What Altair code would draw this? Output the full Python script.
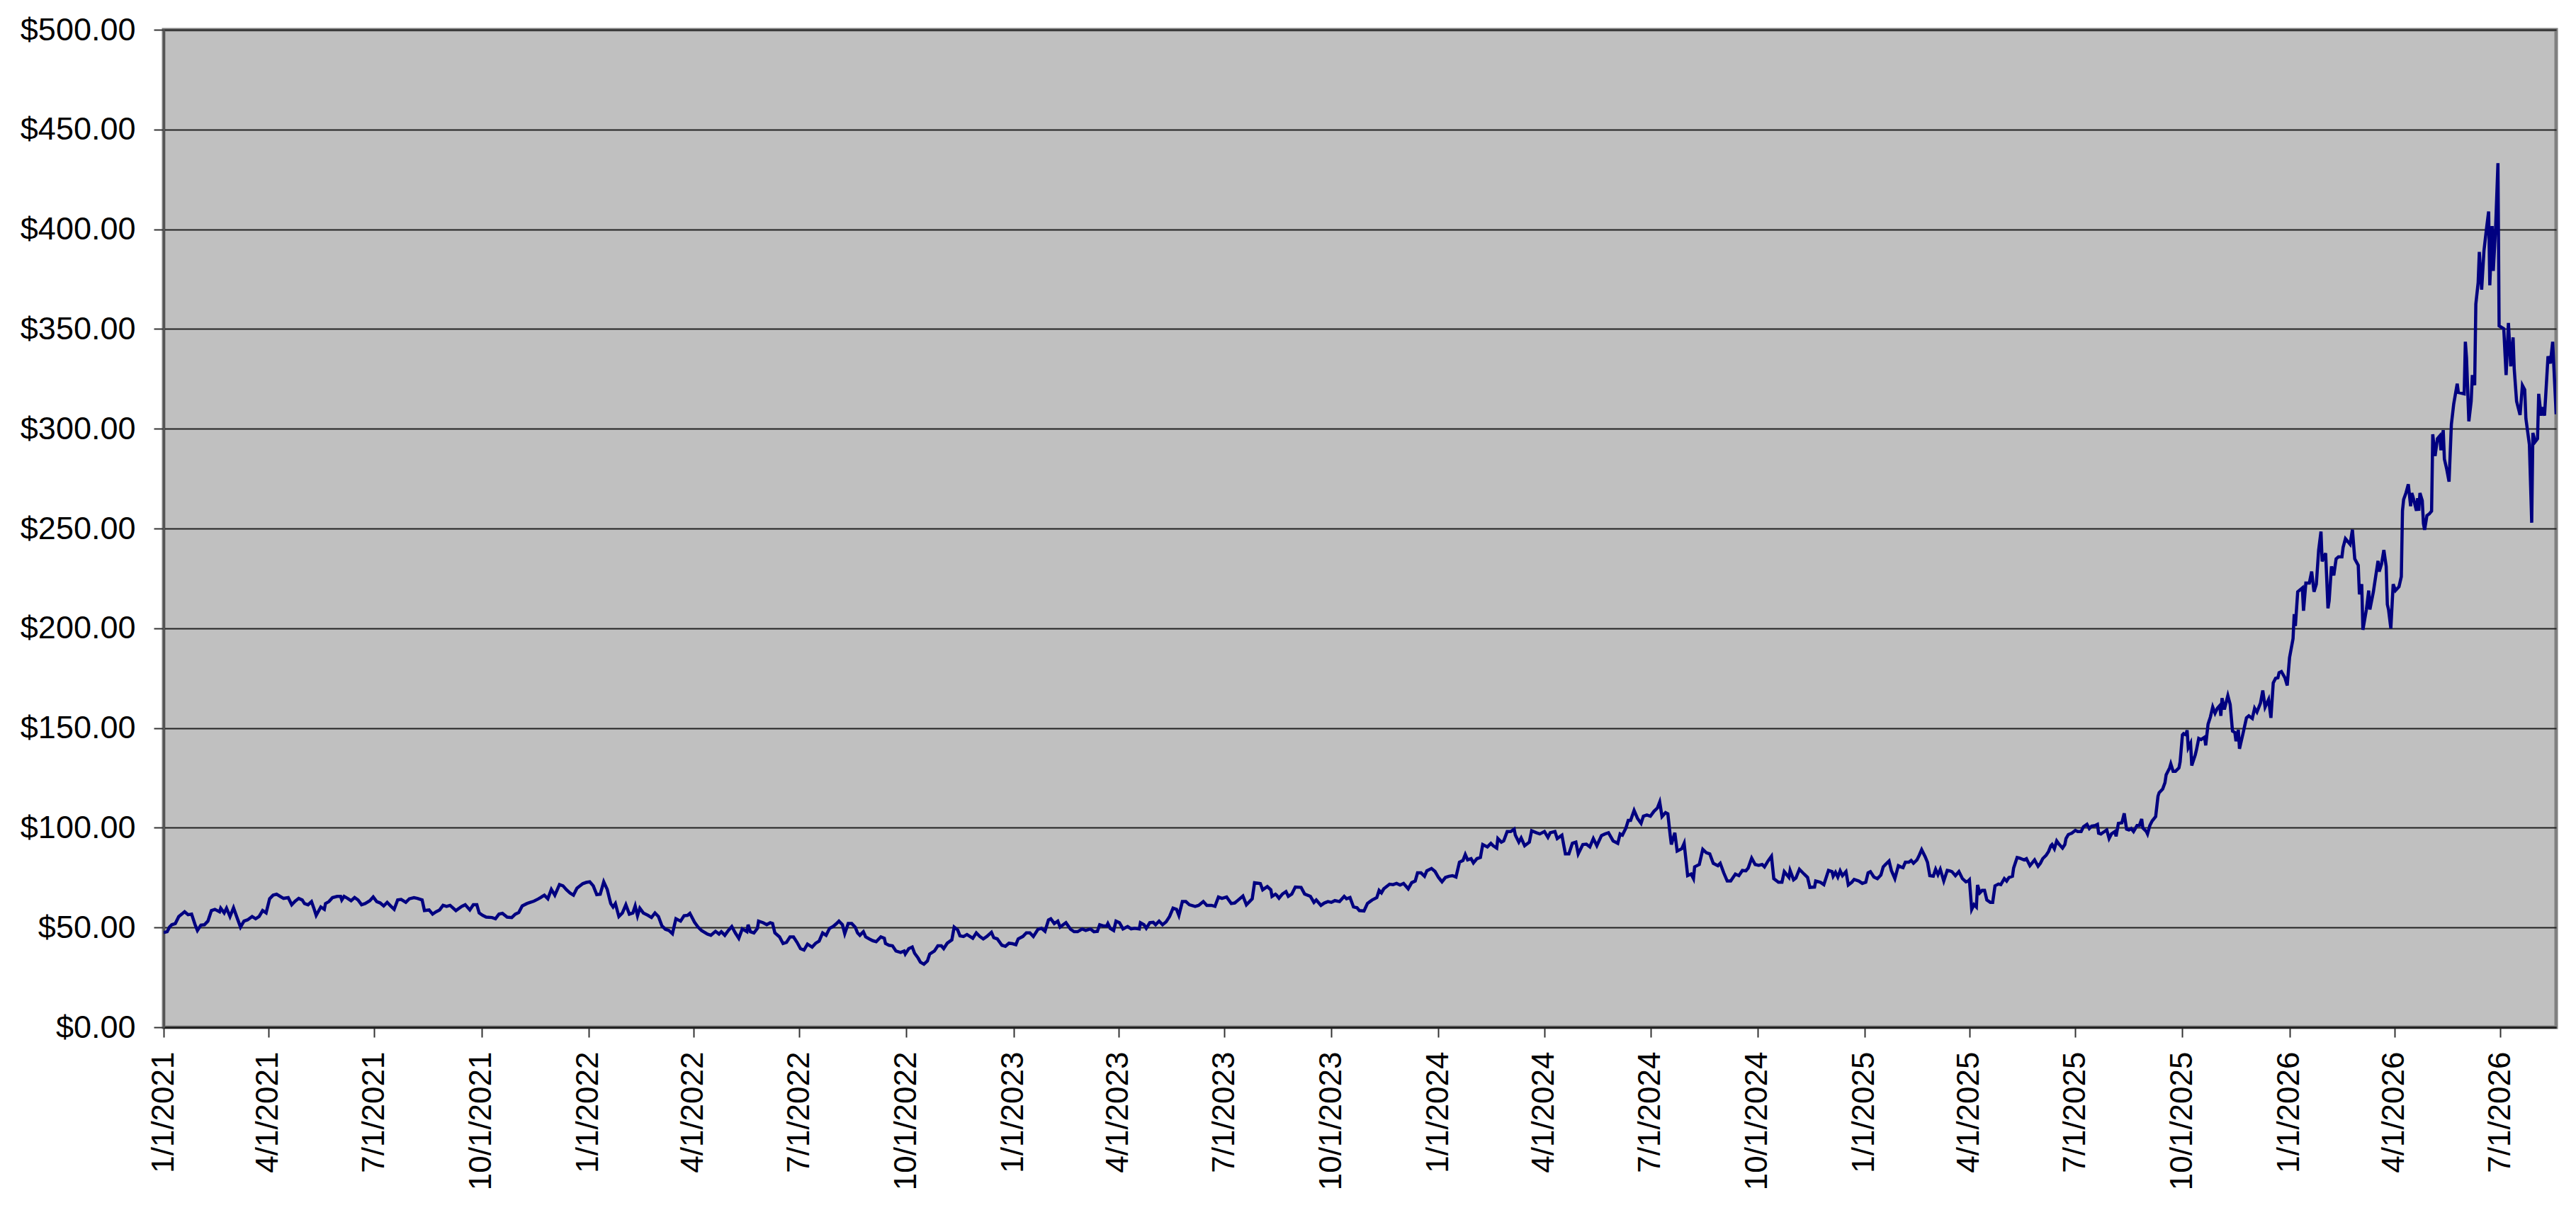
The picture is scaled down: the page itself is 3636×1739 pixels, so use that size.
import altair as alt
import pandas as pd

# ---- data ----
start_date = "2021-01-01"
# days since start_date
trading_day = [
0,3,5,7,10,13,18,21,24,27,29,32,35,38,41,44,48,49,52,54,57,60,63,66,69,72,76,79,82,85,88,91,94,97,100,103,107,110,113,116,119,121,124,127,129,131,135,138,139,142,145,149,152,153,155,158,161,164,167,170,173,177,180,183,186,189,192,195,198,201,204,208,211,215,218,222,224,228,231,234,237,240,243,246,251,256,259,263,266,269,271,274,277,282,285,288,291,295,299,302,305,308,312,315,318,322,327,330,333,336,340,343,346,349,352,355,360,363,366,369,372,375,378,381,384,386,388,391,394,397,400,403,405,407,409,412,416,419,422,425,428,431,434,437,440,444,447,450,452,456,459,462,467,470,474,477,479,
482,485,488,491,494,497,501,502,504,507,510,511,515,518,521,523,525,529,532,535,538,541,544,547,550,553,557,560,563,566,569,572,575,578,580,583,585,588,591,594,596,598,601,603,606,609,612,616,619,620,623,626,629,633,636,637,640,643,645,648,650,653,656,658,662,665,668,670,673,677,679,682,684,687,690,695,698,701,704,707,711,713,716,720,723,726,729,732,734,738,741,744,747,751,754,757,760,762,765,768,770,774,775,779,782,785,789,792,796,799,802,804,807,810,811,813,816,818,821,824,828,831,834,838,839,842,844,847,850,852,855,858,861,864,867,870,872,875,878,881,886,889,893,896,900,903,906,909,913,917,920,923,927,930,934,935,937,942,944,948,951,952,955,
956,958,961,964,966,969,972,977,980,985,988,990,994,997,1000,1003,1006,1010,1014,1016,1019,1022,1025,1027,1031,1034,1038,1042,1044,1046,1048,1053,1056,1059,1062,1065,1069,1072,1075,1077,1080,1083,1085,1089,1092,1095,1098,1101,1104,1107,1110,1113,1116,1118,1120,1123,1125,1128,1131,1133,1137,1140,1142,1145,1146,1149,1151,1154,1157,1160,1161,1164,1166,1169,1173,1175,1179,1182,1186,1189,1191,1195,1197,1201,1204,1207,1210,1213,1215,1219,1222,1225,1228,1231,1235,1238,1241,1245,1249,1251,1253,1256,1258,1260,1263,1266,1269,1271,1274,1277,1280,1283,1285,1287,1290,1292,1294,1295,1298,1300,1304,1306,1309,1312,1314,1315,1319,1322,1325,1328,1331,1335,1337,1340,1343,1346,1350,1353,1356,1359,1361,1364,1367,1370,1373,1375,1378,1381,1383,1387,1390,1392,1396,1397,1400,1402,1405,1409,1412,1414,1418,1419,1423,1426,1430,
1433,1434,1436,1438,1440,1442,1445,1447,1450,1452,1456,1459,1462,1464,1466,1469,1472,1475,1477,1479,1482,1484,1487,1490,1492,1494,1496,1499,1501,1503,1506,1508,1510,1513,1515,1517,1520,1522,1524,1526,1529,1532,1534,1536,1539,1542,1545,1548,1550,1551,1553,1555,1557,1558,1560,1562,1564,1566,1569,1571,1573,1576,1578,1581,1583,1585,1588,1589,1592,1594,1598,1600,1603,1605,1607,1610,1612,1614,1617,1619,1621,1622,1624,1626,1628,1631,1633,1634,1636,1639,1642,1644,1647,1649,1652,1654,1656,1659,1661,1662,1664,1667,1669,1671,1673,1676,1677,1679,1682,1684,1686,1688,1690,1692,1695,1697,1699,1700,1703,1704,1706,1708,1711,1713,1714,1717,1719,1720,1723,1724,1726,1728,1731,1732,1734,1735,1737,1738,1739,1741,1742,1745,1746,1748,1750,1753,1754,1756,
1758,1760,1762,1764,1766,1767,1768,1770,1773,1775,1777,1779,1780,1782,1783,1786,1789,1791,1794,1796,1798,1801,1803,1805,1808,1810,1812,1814,1816,1817,1819,1822,1824,1826,1829,1830,1831,1833,1837,1838,1840,1843,1845,1847,1849,1851,1853,1854,1857,1859,1860,1862,1864,1866,1868,1871,1872,1874,1878,1880,1882,1885,1886,1888,1889,1892,1894,1895,1898,1900,1902,1903,1905,1907,1909,1910,1911,1913,1915,1917,1920,1922,1923,1924,1926,1928,1930,1931,1932,1935,1936,1937,1938,1940,1941,
1942,1944,1946,1948,1949,1951,1953,1955,1956,1958,1959,1961,1963,1965,1967,1970,1971,1976,1977,1978,1980,1982,1983,1985,1986,1988,1989,1991,1993,1995,1997,1998,2000,2001,2003,2005,2006,2010,2012,2014,2016,2018,2019,2021,2024,2026,2028,2029,2032,2034,2035,2037,2039,2040,2042,2043,2045,2048,2050,2052,2055,
]
prices = [
47.5,47.9,50.2,51.4,52.0,55.5,57.9,56.4,56.7,51.4,48.5,51.2,51.4,53.2,58.5,59.1,57.9,59.7,57.3,59.7,55.5,59.9,55.0,50.2,53.2,53.8,55.5,54.4,55.5,58.5,57.3,64.4,66.2,66.7,65.6,64.6,65.0,61.4,63.2,64.6,63.8,62.0,61.4,63.0,59.7,56.1,60.3,59.1,62.0,63.0,65.0,65.6,65.6,63.8,65.6,64.6,63.4,65.0,63.8,61.4,62.0,63.4,65.3,63.0,62.3,60.8,62.6,60.8,59.1,63.8,64.1,62.6,64.4,65.0,64.6,63.8,58.5,58.8,56.7,57.9,58.8,61.1,60.6,61.1,58.5,60.6,61.4,58.8,61.4,61.4,57.3,56.1,55.2,55.0,54.4,56.7,57.1,55.2,55.0,56.7,57.5,60.8,62.0,62.6,63.2,64.4,66.2,64.4,69.1,66.2,71.5,70.9,68.9,67.3,66.2,69.7,72.0,72.6,72.9,70.9,66.5,66.7,72.9,69.1,62.0,60.3,62.0,55.5,57.3,61.4,56.7,57.3,60.8,55.9,59.7,57.3,56.1,55.0,57.3,55.5,50.8,49.1,48.5,46.9,54.4,53.2,55.9,56.1,57.1,52.6,50.2,48.5,46.7,46.1,48.1,46.7,47.9,
46.1,48.5,50.5,47.3,44.6,49.3,47.9,51.4,47.9,47.3,49.6,53.2,52.4,51.4,52.4,52.0,47.3,45.3,42.0,42.6,45.3,45.3,42.6,39.4,38.7,41.7,40.2,42.1,43.2,47.3,46.1,49.6,50.5,52.0,53.2,51.4,46.9,52.0,52.0,50.2,47.3,46.1,47.9,45.3,44.3,43.4,42.9,45.3,44.6,42.0,41.1,40.8,38.2,37.5,38.2,36.7,39.4,40.2,37.1,34.7,32.6,31.6,33.2,36.7,38.2,40.8,40.8,39.4,42.1,43.8,50.2,48.8,45.8,45.5,46.5,44.6,47.3,45.5,44.3,45.5,47.6,44.9,44.3,41.1,40.6,42.1,41.9,41.4,44.3,45.5,47.3,47.3,45.5,49.1,49.6,48.1,53.8,54.4,52.0,53.2,50.2,52.0,52.4,49.1,47.9,47.9,49.3,48.5,49.3,47.9,48.1,51.4,50.8,50.8,52.0,49.6,48.5,53.2,52.4,49.3,50.5,49.3,49.6,49.3,52.4,51.4,49.6,52.4,52.6,51.4,53.2,51.4,52.8,55.5,59.7,59.1,56.1,63.0,63.0,61.4,60.6,61.1,63.0,61.1,61.1,60.6,65.3,64.6,65.3,62.0,62.3,63.8,65.8,61.4,63.8,64.4,72.4,72.0,68.9,70.5,68.9,65.6,66.7,
66.2,64.7,66.8,68.0,65.6,66.8,70.3,70.1,66.8,65.6,62.6,63.8,61.1,62.3,63.0,62.6,63.5,63.0,65.6,64.4,65.0,60.3,59.9,58.5,58.3,62.1,63.8,65.0,68.6,67.4,69.4,71.7,71.5,72.1,71.3,72.1,69.4,72.5,73.3,77.4,77.4,75.7,78.4,79.6,78.1,75.1,72.9,75.1,75.7,76.0,75.3,82.7,83.6,86.6,83.9,84.5,82.4,84.5,85.1,91.6,90.4,92.2,91.0,89.8,94.6,92.8,93.4,98.1,98.1,99.3,96.3,92.8,94.9,91.0,92.8,98.5,97.5,96.9,98.1,95.2,97.5,98.1,94.6,96.3,86.9,86.9,92.2,92.8,86.9,91.6,91.8,90.4,94.6,91.0,96.1,96.9,97.5,93.4,92.2,96.9,96.3,99.9,103.7,103.7,108.7,104.6,102.2,105.8,106.4,105.8,108.2,109.9,112.9,105.6,107.6,107.0,96.3,91.6,97.5,88.3,89.5,92.2,76.0,76.8,74.5,80.4,81.6,89.2,87.5,86.9,82.2,81.0,82.2,77.4,73.3,73.3,76.8,76.0,78.6,78.4,79.8,84.8,81.6,81.2,81.6,80.4,83.3,85.7,74.5,72.7,72.7,78.0,75.1,78.6,73.9,74.8,79.2,76.8,75.1,70.1,70.3,73.3,72.7,71.5,78.6,
78.0,75.7,77.7,75.3,78.4,76.0,78.0,71.3,72.7,74.1,73.3,72.1,72.7,77.4,78.0,75.3,74.5,76.3,80.4,81.6,83.3,78.6,74.5,81.0,80.4,80.0,82.7,82.7,83.6,82.2,83.9,86.3,89.0,85.5,82.7,76.0,75.7,79.2,76.5,79.2,73.3,78.6,78.4,78.0,76.0,78.0,74.5,72.9,73.3,73.9,59.1,61.5,60.3,71.3,67.4,68.6,68.6,63.8,62.6,62.6,70.9,71.8,71.5,74.5,73.3,75.1,75.7,79.8,85.1,84.8,83.9,84.5,81.0,82.4,83.9,80.7,82.2,84.5,86.3,88.1,91.0,91.6,89.5,93.4,91.8,89.8,91.6,94.6,96.6,97.3,98.7,98.1,98.1,100.5,101.7,99.6,100.8,101.1,101.7,97.3,96.9,98.1,98.9,94.6,96.9,98.1,95.7,102.2,102.5,107.2,99.3,98.9,99.6,98.1,101.1,101.1,104.4,99.9,98.1,96.9,101.1,103.4,105.6,115.8,117.6,119.4,122.6,126.5,130.0,132.0,128.3,128.3,130.0,133.0,146.6,147.2,146.6,148.9,140.1,142.4,131.2,136.5,138.9,144.8,144.2,145.4,141.3,151.9,
155.5,160.5,157.4,159.9,161.2,156.1,165.0,159.3,166.2,161.8,148.5,147.8,143.4,149.1,139.6,147.2,155.1,156.1,154.8,159.9,158.0,162.4,168.8,160.5,164.3,155.1,172.6,174.9,175.2,177.7,178.3,175.2,171.3,185.3,194.8,207.1,201.1,218.3,220.2,208.8,222.7,222.7,228.4,218.3,222.1,239.2,248.5,233.5,237.6,210.0,213.8,231.0,226.5,234.8,235.8,235.8,240.5,244.9,242.1,249.4,234.8,231.6,217.0,222.1,199.2,209.4,218.9,209.4,218.3,226.1,233.8,228.4,232.2,239.2,231.0,211.9,209.4,199.9,222.1,218.9,220.8,225.9,258.9,264.6,267.8,272.2,261.2,267.8,265.9,258.9,265.2,258.9,267.8,264.0,252.5,
249.3,256.5,257.3,258.7,297.2,286.3,295.0,296.4,289.2,299.3,284.8,279.7,273.5,302.2,312.4,322.6,318.2,317.5,343.6,335.6,303.7,313.8,326.9,321.8,362.5,373.3,388.6,369.7,389.3,399.5,408.9,371.9,401.6,379.1,400.9,433.1,351.6,350.1,326.9,353.0,331.3,345.8,329.8,313.8,306.9,321.8,319.6,305.1,292.1,252.9,297.9,293.5,295.0,317.5,306.6,310.9,306.6,336.3,332.7,343.6,307.3,
]

tick_years = [2021, 2022, 2023, 2024, 2025, 2026]
tick_months = [1, 4, 7, 10]
y_ticks = [0, 50, 100, 150, 200, 250, 300, 350, 400, 450, 500]

assert len(trading_day) == len(prices), (len(trading_day), len(prices))

dates = (pd.Timestamp(start_date) + pd.to_timedelta(trading_day, unit="D")).strftime("%Y-%m-%d")
df = pd.DataFrame({"date": dates, "price": prices})

x_tick_values = [
    alt.DateTime(year=y, month=m, date=1, utc=True)
    for y in tick_years for m in tick_months
    if (y, m) <= (2026, 7)
]

FONT = "Liberation Sans"

chart = alt.Chart(df).mark_line(color="#000080", strokeWidth=4.5, clip=True).encode(
    x=alt.X(
        "date:T",
        scale=alt.Scale(
            type="utc",
            domain=[alt.DateTime(year=2021, month=1, date=1, utc=True),
                    alt.DateTime(year=2026, month=8, date=18, utc=True)],
            nice=False,
        ),
        axis=alt.Axis(
            title=None,
            values=x_tick_values,
            labelExpr="utcFormat(datum.value, '%-m/%-d/%Y')",
            labelAngle=270,
            labelAlign="right",
            labelBaseline="middle",
            labelFont=FONT,
            labelFontSize=44,
            labelColor="#000000",
            labelPadding=20,
            labelLimit=0,
            labelOverlap=False,
            labelFlush=False,
            tickSize=14,
            tickWidth=2,
            tickColor="#333333",
            domainColor="#222222",
            domainWidth=3,
            grid=False,
        ),
    ),
    y=alt.Y(
        "price:Q",
        scale=alt.Scale(domain=[0, 500], nice=False, zero=True),
        axis=alt.Axis(
            title=None,
            values=y_ticks,
            format="$.2f",
            labelFont=FONT,
            labelFontSize=45,
            labelColor="#000000",
            labelPadding=26,
            labelLimit=0,
            labelFlush=False,
            labelOverlap=False,
            tickSize=14,
            tickWidth=2,
            tickColor="#333333",
            domainColor="#555555",
            domainWidth=3,
            grid=True,
            gridColor="#222222",
            gridWidth=2,
        ),
    ),
).properties(
    width=3377,
    height=1408,
    autosize=alt.AutoSizeParams(type="none"),
    padding={"left": 223, "top": 34, "right": 16, "bottom": 250},
    background="#ffffff",
).configure_view(
    fill="#C0C0C0",
    stroke="#808080",
    strokeWidth=5,
)

chart.save("out.html", embed_options={"renderer": "svg", "actions": False})
